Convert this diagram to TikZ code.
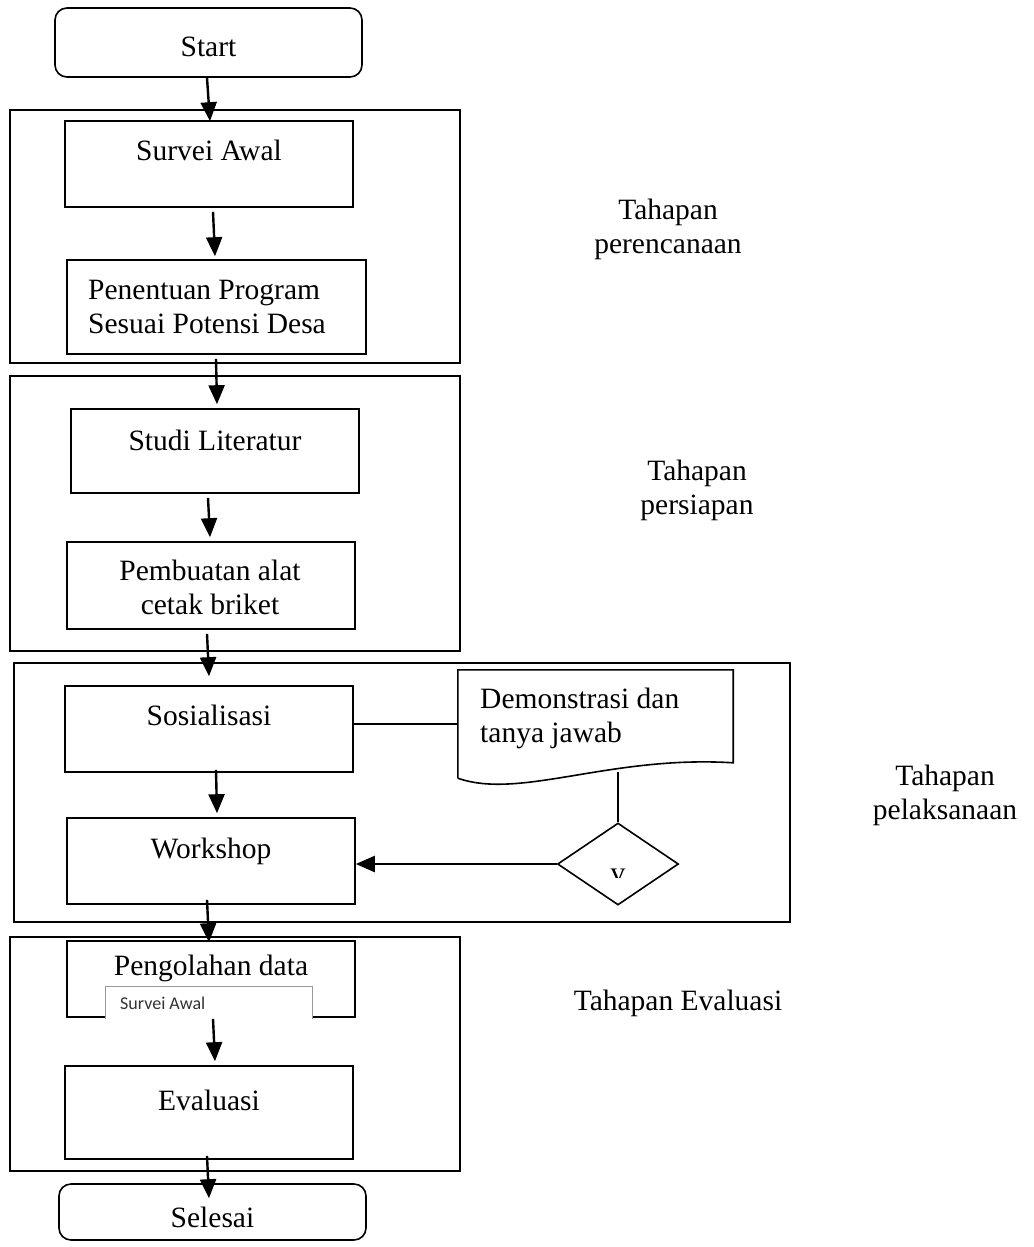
\documentclass[tikz,border=0pt]{standalone}
\usepackage{fontspec}
\setmainfont{Liberation Serif}
\newfontfamily\calib{Carlito}
\usetikzlibrary{arrows.meta,shapes.geometric,calc}
\begin{document}
\begin{tikzpicture}[x=1pt,y=-1pt,
  box/.style={draw, line width=1.6pt, inner sep=0pt},
  rbox/.style={box, rounded corners=12pt},
  txt/.style={font=\fontsize{29.5}{34}\selectfont, inner sep=0pt, align=center},
  arr/.style={line width=2.4pt, -{Triangle[length=19pt,width=16pt]}},
  conn/.style={line width=1.8pt},
  ovline/.style={draw=black!40, line width=1.3pt}]
\useasboundingbox (0,0) rectangle (1033,1247);

% group frames
\node[box, minimum width=450pt, minimum height=253pt] (g1) at (235,236.5) {};
\node[box, minimum width=450pt, minimum height=275pt] (g2) at (235,513.5) {};
\node[box, minimum width=776pt, minimum height=259pt] (g3) at (402,792.5) {};
\node[box, minimum width=450pt, minimum height=234pt] (g4) at (235,1054) {};

% terminals and process boxes
\node[rbox, minimum width=307pt, minimum height=69pt] (start) at (208.5,42.5) {};
\node[txt] (startT) at (208.5,47) {Start};

\node[box, minimum width=288pt, minimum height=86pt] (survei) at (209,164) {};
\node[txt] (surveiT) at (209,150) {Survei Awal};

\node[box, minimum width=299pt, minimum height=94pt] (penentuan) at (216.5,307) {};
\node[txt, align=left, anchor=west] (penentuanT) at (88,307) {Penentuan Program\\Sesuai Potensi Desa};

\node[box, minimum width=288pt, minimum height=84pt] (studi) at (215,451) {};
\node[txt] (studiT) at (215,440) {Studi Literatur};

\node[box, minimum width=288pt, minimum height=87pt] (pembuatan) at (211,585.5) {};
\node[txt] (pembuatanT) at (210,587) {Pembuatan alat\\cetak briket};

\node[box, minimum width=288pt, minimum height=86pt] (sos) at (209,729) {};
\node[txt] (sosT) at (209,715) {Sosialisasi};

\node[box, minimum width=288pt, minimum height=86pt] (wk) at (211,861) {};
\node[txt] (wkT) at (211,851) {Workshop};

\node[box, minimum width=288pt, minimum height=76pt] (peng) at (211,979) {};
\node[txt] (pengT) at (211,968) {Pengolahan data};

\node[box, minimum width=288pt, minimum height=93pt] (eval) at (209,1112.5) {};
\node[txt] (evalT) at (209,1100) {Evaluasi};

\node[rbox, minimum width=307pt, minimum height=56pt] (selesai) at (212.5,1212) {};
\node[txt] (selesaiT) at (212.5,1217) {Selesai};

% pasted overlay inside Pengolahan data
\node[fill=white, minimum width=206pt, minimum height=32pt, inner sep=0pt] (ov) at (209,1003) {};
\draw[ovline] (ov.south west) |- (ov.north east) -- (ov.south east);
\node[font=\calib\fontsize{18}{20}\selectfont, text=black!80, anchor=west, inner sep=0pt] (ovT) at (120,1003) {Survei Awal};

% document shape
\node[minimum width=275pt, minimum height=108pt, inner sep=0pt] (demo) at (595.5,724) {};
\draw[line width=1.6pt] (demo.south west) -- (demo.north west) -- (demo.north east)
  -- ($(demo.north east)+(0,93)$) .. controls (610,755) and (520,800) .. (demo.south west);
\node[txt, align=left, anchor=west] (demoT) at (480,718) {Demonstrasi dan\\tanya jawab};

% decision
\node[diamond, draw, line width=1.6pt, minimum width=121pt, minimum height=82pt, inner sep=0pt, shape aspect=1.48] (dia) at (618,864) {};
\begin{scope}
\clip (590,850) rectangle (650,877.5);
\node[txt] (diaT) at (618,876) {v};
\end{scope}

% side labels
\node[txt] (lab1) at (668,229) {Tahapan\\perencanaan};
\node[txt] (lab2) at (697,490) {Tahapan\\persiapan};
\node[txt] (lab3) at (945,795) {Tahapan\\pelaksanaan};
\node[txt] (lab4) at (678,1003) {Tahapan Evaluasi};

% connectors
\draw[arr] ([shift={(-1.5,0)}]start.south) -- ([shift={(1,1)}]survei.north);
\draw[arr] ([shift={(4,4)}]survei.south) -- ([shift={(-1.5,-3)}]penentuan.north);
\draw[arr] ([shift={(-0.5,4)}]penentuan.south) -- ([shift={(2,-4)}]studi.north);
\draw[arr] ([shift={(-7,4)}]studi.south) -- ([shift={(-1,-4)}]pembuatan.north);
\draw[arr] ([shift={(-4,4)}]pembuatan.south) -- ([shift={(0,-9)}]sos.north);
\draw[arr] ([shift={(7,-3)}]sos.south) -- ([shift={(6,-4)}]wk.north);
\draw[arr] ([shift={(-4,-5)}]wk.south) -- ([shift={(-2,2)}]peng.north);
\draw[arr] ([shift={(2,1)}]peng.south) -- ([shift={(6,-4)}]eval.north);
\draw[arr] ([shift={(-2,-4)}]eval.south) -- ([shift={(-3.5,15)}]selesai.north);

\draw[conn] (sos.east |- demo.west) -- (demo.west);
\coordinate (wave) at (618,772);
\draw[conn] (dia.north) -- (wave);
\draw[arr] (dia.west) -- (dia.west -| wk.east);
\end{tikzpicture}
\end{document}
